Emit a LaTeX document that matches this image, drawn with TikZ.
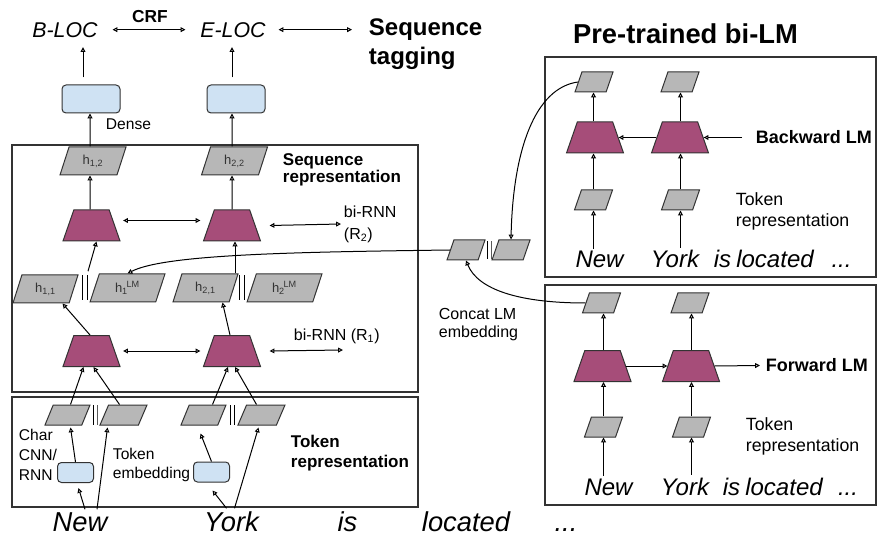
\documentclass[tikz,border=0pt]{standalone}
\usepackage{fontspec}
\setmainfont{Liberation Sans}
\usetikzlibrary{shapes.geometric,arrows.meta,calc}
\definecolor{magfill}{HTML}{A64D79}
\definecolor{grayfill}{HTML}{B7B7B7}
\definecolor{bluefill}{HTML}{CFE2F3}
\definecolor{edgec}{HTML}{333333}
\newcommand\myLoc{\fontsize{16}{19}\selectfont\itshape}
\newcommand\myCrf{\fontsize{13}{15}\selectfont\bfseries}
\newcommand\myBig{\fontsize{18}{21.75}\selectfont\bfseries}
\newcommand\myTitle{\fontsize{20.5}{24}\selectfont\bfseries}
\newcommand\myHead{\fontsize{12.75}{13}\selectfont\bfseries}
\newcommand\myHeadB{\fontsize{12.75}{15}\selectfont\bfseries}
\newcommand\myLM{\fontsize{13.5}{16}\selectfont\bfseries}
\newcommand\myLab{\fontsize{12}{13.5}\selectfont}
\newcommand\myLabB{\fontsize{12}{16.5}\selectfont}
\newcommand\mySm{\fontsize{11.7}{15}\selectfont}
\newcommand\mySmB{\fontsize{11.7}{14.25}\selectfont}
\newcommand\myTR{\fontsize{13.3}{15.75}\selectfont}
\newcommand\myWord{\fontsize{20.5}{24}\selectfont\itshape}
\newcommand\myWordS{\fontsize{18}{21}\selectfont\itshape}
\newcommand\myH{\fontsize{9.75}{11}\selectfont}
\begin{document}
\begin{tikzpicture}[x=0.75pt,y=-0.75pt,
  otri/.tip={Triangle[open,length=3.6pt,width=3.6pt]},
  arr/.style={-otri, line width=0.75pt},
  darr/.style={otri-otri, line width=0.75pt},
  hpar/.style={trapezium, trapezium left angle=74, trapezium right angle=106,
    trapezium stretches=true, draw=edgec, fill=grayfill, line width=0.75pt,
    inner sep=1pt, minimum width=49.5pt, minimum height=21pt, font=\myH, text=edgec},
  hlm/.style={hpar, minimum width=56.25pt},
  spar/.style={hpar, minimum width=33.75pt, minimum height=15pt},
  rpar/.style={hpar, minimum width=28.5pt, minimum height=15pt},
  rnn/.style={trapezium, trapezium left angle=73, trapezium right angle=73,
    trapezium stretches=true, draw=edgec, fill=magfill, line width=0.75pt,
    inner sep=1pt, minimum width=42.75pt, minimum height=23.25pt},
  dense/.style={rectangle, rounded corners=3pt, draw=edgec, fill=bluefill,
    line width=0.75pt, minimum width=43.5pt, minimum height=21pt, inner sep=0pt},
  cbox/.style={dense, minimum width=27pt, minimum height=15pt},
  bars/.style={inner sep=0pt, minimum width=4.5pt, minimum height=18.75pt,
    path picture={
      \draw[line width=0.75pt] ([xshift=0.5pt]path picture bounding box.north west) -- ([xshift=0.5pt]path picture bounding box.south west);
      \draw[line width=0.75pt] ([xshift=-0.5pt]path picture bounding box.north east) -- ([xshift=-0.5pt]path picture bounding box.south east);}},
  sbars/.style={bars, minimum height=15pt, minimum width=4pt},
  cbars/.style={bars, minimum height=13.5pt, minimum width=4pt},
  frame/.style={draw=edgec, line width=0.9pt},
  txt/.style={inner sep=2pt, text=black}]
\useasboundingbox (0,0) rectangle (878,538);
\fill[white] (0,0) rectangle (878,538);

% ---------- top: sequence tagging ----------
\node[txt,font=\myLoc,anchor=base] (BLOC) at (65,38) {B-LOC};
\node[txt,font=\myLoc,anchor=base] (ELOC) at (233,38) {E-LOC};
\node[txt,font=\myCrf,anchor=base] (CRF) at (150,23) {CRF};
\node[txt,font=\myBig,anchor=west,align=left] (seqtag) at (366,44) {Sequence\\tagging};
\draw[darr] ($(BLOC.east)+(12,-1)$) -- ($(ELOC.west)+(-12,-1)$);
\draw[darr] ($(ELOC.east)+(10,-1)$) -- ($(ELOC.east -| seqtag.west)+(-14,-1)$);

\node[dense] (dense1) at (91,99) {};
\node[dense] (dense2) at (236,99) {};
\draw[arr] ($(dense1.north)+(-8,-7)$) -- ($(BLOC.south)+(18,6)$);
\draw[arr] ($(dense2.north)+(-4,-7)$) -- ($(ELOC.south)+(-1,6)$);
\node[txt,font=\mySm,anchor=base west] (denselab) at (103,130) {Dense};

% ---------- left frames ----------
\draw[frame] (12,145) rectangle (418,392);
\draw[frame] (12,397) rectangle (418,507);

% ---------- sequence representation ----------
\node[hpar] (h12) at (93,161) {h\textsubscript{1,2}};
\node[hpar] (h22) at (234.5,161) {h\textsubscript{2,2}};
\draw[arr] ($(h12.north)+(-3,0)$) -- ($(dense1.south)+(-1,0)$);
\draw[arr] ($(h22.north)+(-2.5,0)$) -- ($(dense2.south)+(-4,0)$);
\node[txt,font=\myHead,anchor=west,align=left] (seqrep) at (280,170) {Sequence\\representation};

\node[rnn] (r2a) at (91.5,225.5) {};
\node[rnn] (r2b) at (232,225.5) {};
\draw[arr] ($(r2a.north)+(-1.5,0)$) -- ($(h12.south)+(-3,0)$);
\draw[arr] (r2b.north) -- ($(h22.south)+(-2.5,0)$);
\draw[darr] ($(r2a.east)+(8,-5)$) -- ($(r2b.west)+(-8,-5)$);
\node[txt,font=\myLabB,anchor=west,align=left] (R2lab) at (341,224) {bi-RNN\\(R\textsubscript{2})};
\draw[darr] ($(r2b.east)+(14,0)$) -- (R2lab.west);

\node[hpar,minimum width=48.75pt] (h11) at (45.5,289) {h\textsubscript{1,1}};
\node[bars] (b1) at (85,288) {};
\node[hlm] (hlm1) at (127.5,288) {h\textsubscript{1}\kern-0.1em\textsuperscript{LM}};
\node[hpar,minimum width=48.75pt] (h21) at (205.5,288) {h\textsubscript{2,1}};
\node[bars] (b2) at (242,288) {};
\node[hlm] (hlm2) at (284.5,288) {h\textsubscript{2}\kern-0.1em\textsuperscript{LM}};
\draw[arr] ($(b1.north)+(3,-4)$) -- ($(r2a.south)+(5,0)$);
\draw[arr] ($(r2b.south |- h21.north)+(3,0)$) -- ($(r2b.south)+(3,0)$);

\node[rnn] (r1a) at (91.5,351) {};
\node[rnn] (r1b) at (232,351) {};
\draw[darr] ($(r1a.east)+(8,0)$) -- ($(r1b.west)+(-8,0)$);
\coordinate (r1end) at (343,350);
\draw[darr] ($(r1b.east)+(14,0)$) -- (r1end);
\node[txt,font=\myLab,anchor=base west] (R1lab) at (291,340) {bi-RNN (R\textsubscript{1})};
\draw[arr] ($(r1a.north)+(-1.5,0)$) -- ($(h11.south)+(17,0)$);
\draw[arr] ($(r1b.north)+(-2,0)$) -- ($(h21.south)+(17,0)$);

% ---------- token representation ----------
\node[spar] (tc1) at (67.5,415) {};
\node[sbars] (tb1) at (95,415) {};
\node[spar,minimum width=35.25pt] (te1) at (123.5,415) {};
\node[spar] (tc2) at (203.5,415) {};
\node[sbars] (tb2) at (232.5,415) {};
\node[spar,minimum width=35.25pt] (te2) at (261.5,415) {};
\draw[arr] ($(tc1.north)+(3,0)$) -- ($(r1a.south)+(-8,0)$);
\draw[arr] ($(te1.north)+(-4,0)$) -- ($(r1a.south)+(2,0)$);
\draw[arr] ($(tc2.north)+(9,0)$) -- ($(r1b.south)+(-4,0)$);
\draw[arr] ($(te2.north)+(-5,0)$) -- ($(r1b.south)+(3,0)$);

\node[cbox] (cb1) at (75.5,472.5) {};
\node[cbox] (cb2) at (211.5,472) {};
\draw[arr] (cb1.north) -- ($(tc1.south)+(3,2)$);
\draw[arr] (cb2.north) -- ($(tc2.south)+(-3,8)$);

\node[txt,font=\mySm,anchor=west,align=left] (charlab) at (16,455) {Char\\CNN/\\RNN};
\node[txt,font=\mySmB,anchor=west,align=left] (tembl) at (110,465) {Token\\embedding};
\node[txt,font=\myHeadB,anchor=west,align=left] (tokrep) at (288,453) {Token\\representation};

\node[txt,font=\myWord,anchor=base] (wNew) at (80,531) {New};
\node[txt,font=\myWord,anchor=base] (wYork) at (231.5,531) {York};
\node[txt,font=\myWord,anchor=base] (wis) at (347.5,531) {is};
\node[txt,font=\myWord,anchor=base] (wloc) at (466,531) {located};
\node[txt,font=\myWord,anchor=base] (wdots) at (566,531) {...};
\draw[arr] ($(wNew.north)+(5,0)$) -- ($(cb1.south)+(3,5)$);
\draw[arr] ($(wNew.north)+(17,0)$) -- ($(te1.south)+(-16,2)$);
\draw[arr] ($(wYork.north)+(-5,0)$) -- ($(cb2.south)+(1,8)$);
\draw[arr] ($(wYork.north)+(3,0)$) -- ($(te2.south)+(-3,2)$);

% ---------- pre-trained bi-LM ----------
\node[txt,font=\myTitle,anchor=base] (title) at (685.5,43.5) {Pre-trained bi-LM};
\draw[frame] (545,57) rectangle (876,277);
\draw[frame] (545,285) rectangle (876,505);

% backward LM
\node[rpar] (up1) at (594,82) {};
\node[rpar] (up2) at (680,82) {};
\node[rnn] (ur1) at (595,137.5) {};
\node[rnn] (ur2) at (680,137.5) {};
\node[rpar] (ut1) at (593.5,200) {};
\node[rpar] (ut2) at (680.5,200) {};
\node[txt,font=\myWordS,anchor=base] (uNew) at (599.5,268) {New};
\node[txt,font=\myWordS,anchor=base] (uYork) at (675,268) {York};
\node[txt,font=\myWordS,anchor=base] (uis) at (722.5,268) {is};
\node[txt,font=\myWordS,anchor=base] (uloc) at (775,268) {located};
\node[txt,font=\myWordS,anchor=base] (udots) at (841.5,268) {...};
\draw[arr] (ut1.south |- uNew.north) -- (ut1.south);
\draw[arr] (ut2.south |- uYork.north) -- (ut2.south);
\draw[arr] (ut1.north) -- (ut1.north |- ur1.south);
\draw[arr] (ut2.north) -- (ut2.north |- ur2.south);
\draw[arr] (ut1.north |- ur1.north) -- (ut1.north |- up1.south);
\draw[arr] (ut2.north |- ur2.north) -- (ut2.north |- up2.south);
\draw[arr] (ur2.west) -- (ur1.east);
\coordinate (bwin) at (742,137.5);
\draw[arr] (bwin) -- (ur2.east);
\node[txt,font=\myLM,anchor=west] (bwlab) at (753,137.5) {Backward LM};
\node[txt,font=\myTR,anchor=west,align=left] (utr) at (733,211) {Token\\representation};

% forward LM
\node[rpar] (lp1) at (601.5,303) {};
\node[rpar] (lp2) at (690,303) {};
\node[rnn] (lr1) at (602.5,366) {};
\node[rnn] (lr2) at (691,366) {};
\node[rpar] (lt1) at (603.5,427) {};
\node[rpar] (lt2) at (691.5,427) {};
\node[txt,font=\myWordS,anchor=base] (lNew) at (608.5,495) {New};
\node[txt,font=\myWordS,anchor=base] (lYork) at (685,495) {York};
\node[txt,font=\myWordS,anchor=base] (lis) at (731.5,495) {is};
\node[txt,font=\myWordS,anchor=base] (lloc) at (784,495) {located};
\node[txt,font=\myWordS,anchor=base] (ldots) at (848,495) {...};
\draw[arr] (lt1.south |- lNew.north) -- (lt1.south);
\draw[arr] (lt2.south |- lYork.north) -- (lt2.south);
\draw[arr] (lt1.north) -- (lt1.north |- lr1.south);
\draw[arr] (lt2.north) -- (lt2.north |- lr2.south);
\draw[arr] (lt1.north |- lr1.north) -- (lt1.north |- lp1.south);
\draw[arr] (lt2.north |- lr2.north) -- (lt2.north |- lp2.south);
\draw[arr] (lr1.east) -- (lr2.west);
\coordinate (fwout) at (760,365.5);
\draw[arr] (lr2.east) -- (fwout);
\node[txt,font=\myLM,anchor=west] (fwlab) at (763,365.5) {Forward LM};
\node[txt,font=\myTR,anchor=west,align=left] (ltr) at (743,436) {Token\\representation};

% concat LM embedding
\node[rpar] (cc1) at (466,250) {};
\node[cbars] (ccb) at (489,250) {};
\node[rpar] (cc2) at (511,250) {};
\node[txt,font=\myLab,anchor=west,align=left] (conlab) at (436,325) {Concat LM\\embedding};
\draw[arr] (up1.west) .. controls (535,88) and (513,150) .. (cc2.north);
\draw[arr] (lp1.west) .. controls (520,303) and (478,290) .. (cc1.south);
\draw[arr] (cc1.west) .. controls (300,252) and (165,254) .. (hlm1.north);
\end{tikzpicture}
\end{document}
